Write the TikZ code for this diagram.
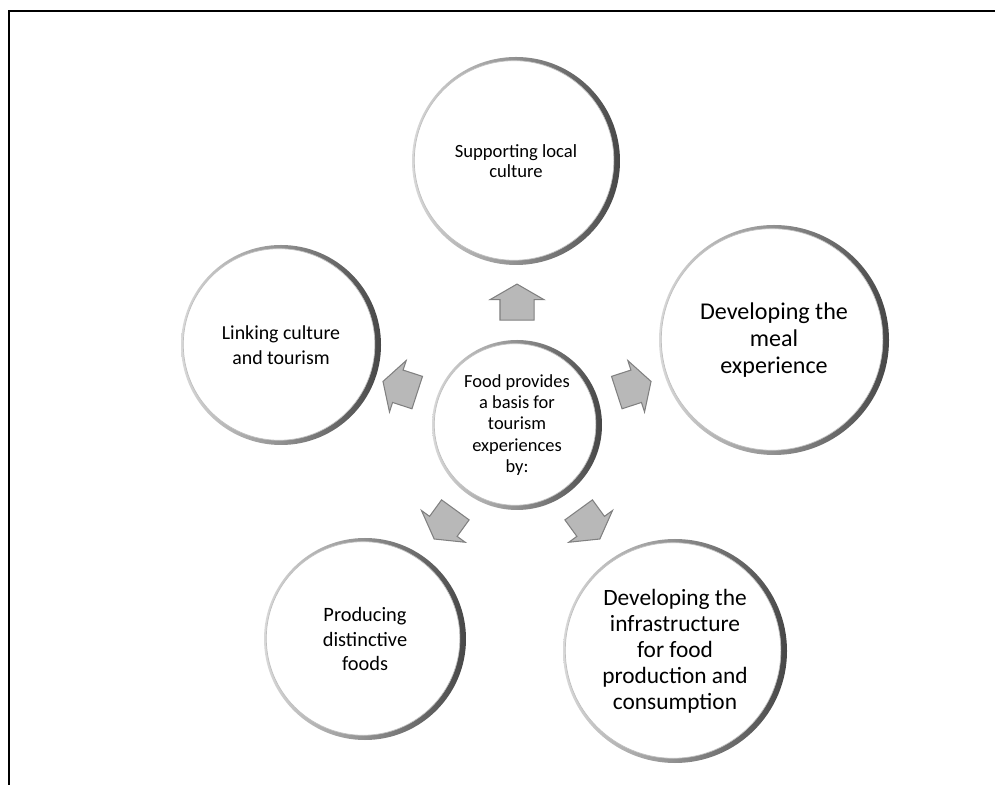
\documentclass[tikz,border=0pt]{standalone}
\usepackage{fontspec}
\setmainfont{Carlito}
\usetikzlibrary{shapes.arrows,calc}

\begin{document}
\begin{tikzpicture}[bubble/.style={circle, minimum size=#1, inner sep=0pt, align=center,
      left color=black!15, right color=black!72,
      path picture={\filldraw[fill=white, draw=black!25, line width=0.4pt]
        let \p1=(path picture bounding box.east), \p2=(path picture bounding box.center)
        in ([xshift=-1.1pt,yshift=0.3pt]\p2) circle ({\x1-\x2-2.4pt});}},
    tip/.style={single arrow, draw=black!50, fill=black!28, line width=0.6pt,
      minimum height=0.72cm, inner xsep=0pt, inner ysep=0.33cm,
      single arrow head extend=0.2cm, single arrow tip angle=120}]
          \useasboundingbox (0,0) rectangle (19.9,15.68);
          \coordinate (bl) at (0.18,-0.3);
          \coordinate (tl) at (0.18,15.46);
          \coordinate (tr) at (20.2,15.46);
          \draw[line width=0.04cm, color=black] (bl) -- (tl) -- (tr);
          \node[bubble=3.4cm, font=\fontsize{10.5}{12}\selectfont] (food) at (10.34,7.18)
            {Food provides\\a basis for\\tourism\\experiences\\by:};
          \node[bubble=4.16cm, font=\fontsize{10.6}{11.6}\selectfont] (culture) at (10.32,12.46)
            {Supporting local\\culture};
          \node[bubble=4.6cm, font=\fontsize{13.7}{15.4}\selectfont] (meal) at (15.48,8.88)
            {Developing the\\meal\\experience};
          \node[bubble=4.48cm, font=\fontsize{13.3}{14.8}\selectfont] (infra) at (13.5,2.66)
            {Developing the\\infrastructure\\for food\\production and\\consumption};
          \node[bubble=4.04cm, font=\fontsize{11.6}{14.2}\selectfont] (foods) at (7.3,2.9)
            {Producing\\distinctive\\foods};
          \node[bubble=4.0cm, font=\fontsize{11.3}{14.2}\selectfont] (linking) at (5.62,8.78)
            {Linking culture\\and tourism};
          \foreach \a/\n in {90/up,18/right,-54/downright,-126/downleft,162/left}
          {
          \node[tip, rotate=\a] (tip-\n) at ($(food)+(\a:2.36)$) {};
          }
        \end{tikzpicture}
\end{document}
